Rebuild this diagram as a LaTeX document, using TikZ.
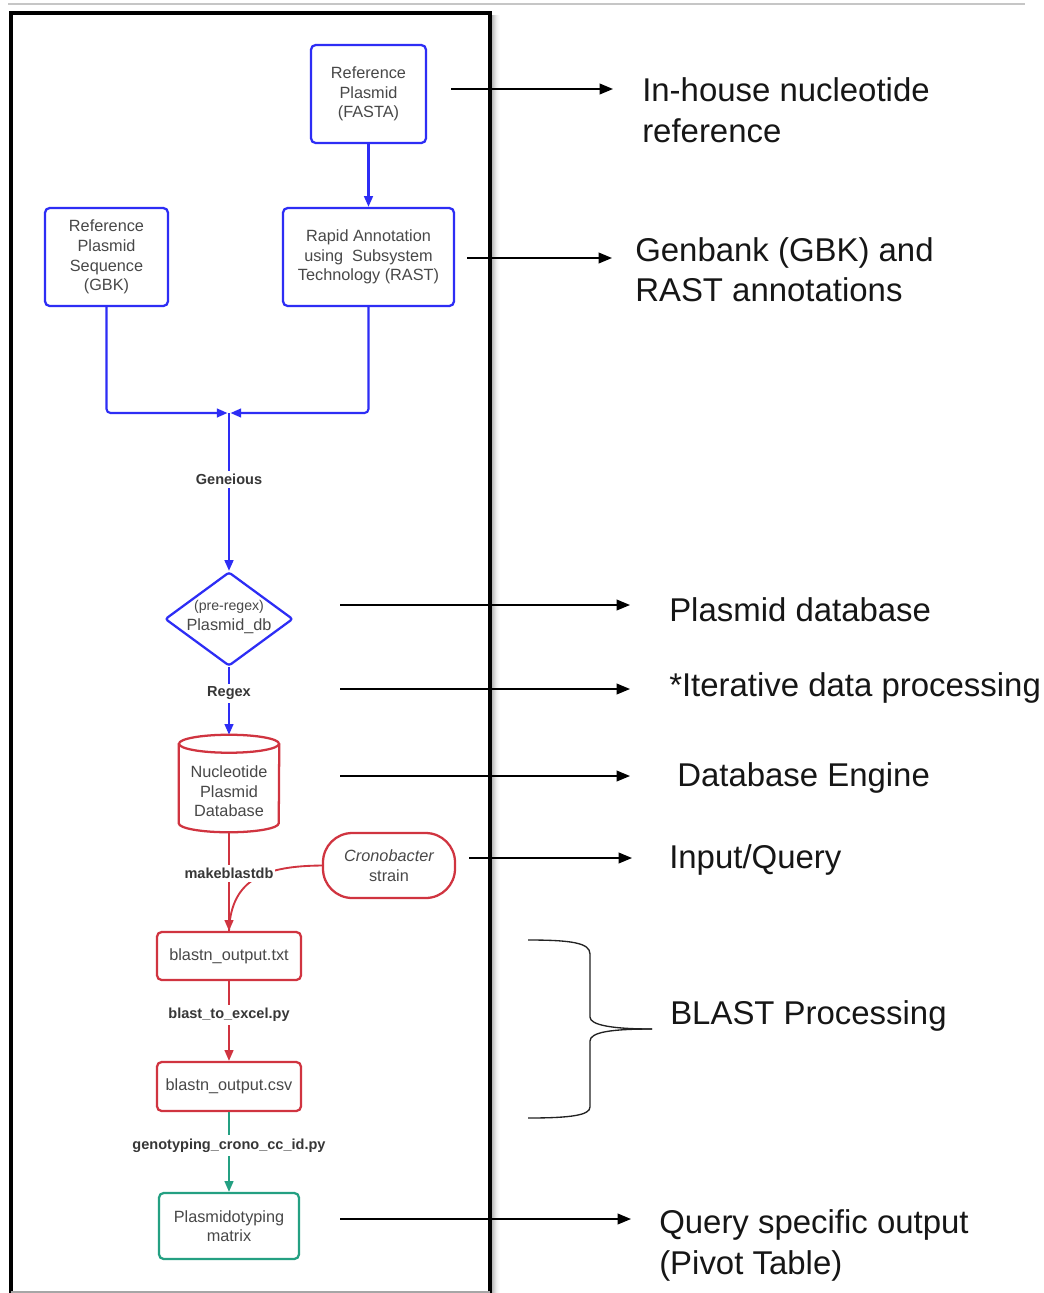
\documentclass[tikz,border=0pt]{standalone}
\usepackage{fontspec}
\setmainfont{Liberation Sans}
\usetikzlibrary{arrows.meta,shapes.geometric,calc}

\definecolor{flowblue}{RGB}{45,45,245}
\definecolor{flowred}{RGB}{208,52,64}
\definecolor{flowteal}{RGB}{36,160,130}
\definecolor{boxtext}{RGB}{72,72,72}
\definecolor{labeltext}{RGB}{55,55,55}
\definecolor{notetext}{RGB}{22,22,22}
\definecolor{bracecol}{RGB}{34,34,34}

\newcommand\boxfont{\fontsize{12.2}{14.7}\selectfont}
\newcommand\notefont{\fontsize{24.7}{30}\selectfont}
\newcommand\edgefont{\bfseries\fontsize{10.9}{13}\selectfont}

\begin{document}
\begin{tikzpicture}[x=0.75pt,y=-0.75pt,
  flowbox/.style={rectangle, line width=1.7pt, rounded corners=3.5pt,
    inner sep=0pt, align=center, text=boxtext, font=\boxfont},
  bluebox/.style={flowbox, draw=flowblue},
  redbox/.style={flowbox, draw=flowred},
  tealbox/.style={flowbox, draw=flowteal},
  boxlabel/.style={inner sep=0pt, align=center, text=boxtext, font=\boxfont},
  blueline/.style={draw=flowblue, line width=1.6pt},
  bluearrow/.style={blueline, -{Triangle[length=8pt,width=6.5pt]}},
  redline/.style={draw=flowred, line width=1.4pt},
  redarrow/.style={redline, -{Triangle[length=8pt,width=6.5pt]}},
  tealarrow/.style={draw=flowteal, line width=1.4pt, -{Triangle[length=8pt,width=6.5pt]}},
  edgelabel/.style={fill=white, inner xsep=1pt, inner ysep=2.5pt,
    text=labeltext, font=\edgefont},
  note/.style={anchor=base west, inner sep=0pt, text=notetext, font=\notefont},
  notearrow/.style={draw=black, line width=1.2pt, -{Triangle[length=10pt,width=8pt]}},
  brace/.style={draw=bracecol, line width=1pt}
]
\useasboundingbox (0,0) rectangle (1043,1293);
\clip (0,0) rectangle (1043,1293);
\fill[white] (0,0) rectangle (1043,1293);

% thin rule across the top
\draw[gray!45, line width=0.8pt] (8,4) -- (1025,4);

% soft shadow right of the frame
\foreach \i/\o in {1/0.28,2/0.22,3/0.17,4/0.12,5/0.08,6/0.05,7/0.03,8/0.015}
  \fill[black, opacity=\o] (490.5+\i,15) rectangle (491.5+\i,1293);

% frame around the workflow
\draw[line width=3pt] (10.5,1296) -- (10.5,12.5) -- (489.5,12.5) -- (489.5,1296);
\draw[gray!70, line width=0.8pt] (10.5,1292) -- (489.5,1292);

% ---- workflow nodes ----
\node[bluebox, minimum width=86.25pt, minimum height=73.5pt] (fasta) at (368.5,94)
  {Reference\\Plasmid\\(FASTA)};
\node[bluebox, minimum width=128.25pt, minimum height=73.5pt] (rast) at (368.5,257)
  {Rapid Annotation\\using\ \ Subsystem\\Technology (RAST)};
\node[bluebox, minimum width=92.25pt, minimum height=73.5pt] (gbk) at (106.5,257)
  {Reference\\Plasmid\\Sequence\\(GBK)};

\coordinate (join) at (229,413);

\node[diamond, draw=flowblue, line width=1.7pt, rounded corners=2pt, inner sep=0pt,
  minimum width=96pt, minimum height=70.5pt] (dia) at (229,619) {};
\node[boxlabel] (dialabel) at ($(dia.center)+(0,-2)$)
  {{\fontsize{10.6}{14.7}\selectfont (pre-regex)}\\Plasmid\_db};

% database cylinder
\node[rectangle, inner sep=0pt, minimum width=75pt, minimum height=72.75pt] (db) at (229,783.5) {};
\draw[redline, line width=1.7pt]
  ($(db.north west)+(0,9)$) -- ($(db.south west)+(0,-9)$)
  arc[start angle=180, end angle=360, x radius=37.5pt, y radius=6.75pt]
  -- ($(db.north east)+(0,9)$);
\draw[redline, line width=1.7pt] ($(db.north)+(0,9)$) ellipse [x radius=37.5pt, y radius=6.75pt];
\node[boxlabel] (dblabel) at ($(db.center)+(0,8)$) {Nucleotide\\Plasmid\\Database};

\node[redbox, rounded corners=22pt, minimum width=99pt, minimum height=48.75pt] (cron) at (389,865.5)
  {{\itshape Cronobacter}\\strain};
\node[redbox, minimum width=108pt, minimum height=36pt] (txt) at (229,956) {blastn\_output.txt};
\node[redbox, minimum width=108pt, minimum height=36.75pt] (csv) at (229,1086.5) {blastn\_output.csv};
\node[tealbox, minimum width=105pt, minimum height=49.5pt] (matrix) at (229,1226)
  {Plasmidotyping\\matrix};

% ---- workflow connectors ----
\draw[bluearrow] (fasta) -- (rast);
\draw[bluearrow, rounded corners=3pt, shorten >=1.1pt] (gbk.south) |- (join);
\draw[bluearrow, rounded corners=3pt, shorten >=1.1pt] (rast.south) |- (join);
\draw[bluearrow] (join) -- node[edgelabel, pos=0.42] {Geneious} (dia.north);
\draw[bluearrow] (dia.south) -- node[edgelabel, pos=0.39] {Regex} (db.north);

\draw[redline] (cron.west) .. controls (266,866) and (231,878) .. (txt.north);
\draw[redarrow] (db.south) -- node[edgelabel, pos=0.42] {makeblastdb} (txt.north);
\draw[redarrow] (txt) -- node[edgelabel, pos=0.42] {blast\_to\_excel.py} (csv);
\draw[tealarrow] (csv) -- node[edgelabel, pos=0.42] {genotyping\_crono\_cc\_id.py} (matrix);

% ---- annotations on the right ----
\node[note] (n1a) at (642,101) {In-house nucleotide};
\node[note] (n1b) at (642,142) {reference};
\node[note] (n2a) at (635,261) {Genbank (GBK) and};
\node[note] (n2b) at (635,301) {RAST annotations};
\node[note] (n3) at (669,621) {Plasmid database};
\node[note] (n4) at (669,696) {*Iterative data processing};
\node[note] (n5) at (677,786) {Database Engine};
\node[note] (n6) at (669,868) {Input/Query};
\node[note] (n7) at (670,1024) {BLAST Processing};
\node[note] (n8a) at (659,1233) {Query specific output};
\node[note] (n8b) at (659,1274) {(Pivot Table)};

\coordinate (a1s) at (451,89);   \coordinate (a1e) at (613,89);
\coordinate (a2s) at (467,258);  \coordinate (a2e) at (612,258);
\coordinate (a3s) at (340,605);  \coordinate (a3e) at (630,605);
\coordinate (a4s) at (340,689);  \coordinate (a4e) at (630,689);
\coordinate (a5s) at (340,776);  \coordinate (a5e) at (630,776);
\coordinate (a6s) at (469,858);  \coordinate (a6e) at (632,858);
\coordinate (a7s) at (340,1219); \coordinate (a7e) at (631,1219);
\foreach \k in {1,...,7} \draw[notearrow] (a\k s) -- (a\k e);

% brace grouping the BLAST steps
\draw[brace] (528,940) .. controls (572,940) and (590,943) .. (590,954)
  -- (590,1017) .. controls (590,1025) and (612,1029) .. (652,1029);
\draw[brace] (652,1029) .. controls (612,1029) and (590,1032) .. (590,1041)
  -- (590,1107) .. controls (590,1115) and (572,1118) .. (528,1118);
\end{tikzpicture}
\end{document}
